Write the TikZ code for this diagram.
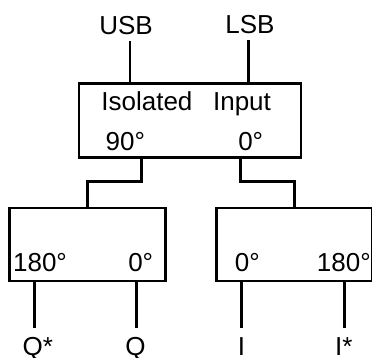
\documentclass[tikz,border=0pt]{standalone}
\usepackage{fontspec}
\setmainfont{Liberation Sans}
\usetikzlibrary{positioning,calc}

\begin{document}
\begin{tikzpicture}[x=1pt,y=1pt,line width=2.6pt,font=\fontsize{26}{31}\selectfont,
  block/.style={draw,inner sep=0pt,minimum height=73pt,minimum width=155.5pt},
  lab/.style={inner sep=0pt,anchor=base}]
  \useasboundingbox (0,0) rectangle (372,358);
  % hybrid coupler and the two splitters
  \node[block,minimum width=222pt,minimum height=74pt] (hyb) at (190,237.7) {};
  \node[block] (splitq) at (87.5,113.5) {};
  \node[block] (spliti) at (294.3,113.5) {};
  % port names inside the boxes
  \foreach \nm/\x/\y/\txt in {hybiso/146.9/247/Isolated, hybin/242/247/Input, hybq/125.3/207.3/90°, hybi/250.7/207.3/0°,
    qm/40/86.3/180°, qp/140.7/86.3/0°, ip/247.3/86.3/0°, im/343.8/86.3/180°}
    \node[lab] (\nm) at (\x,\y) {\txt};
  % sideband inputs
  \node[lab] (usb) at (126,323.7) {USB};
  \node[lab] (lsb) at (250,324.7) {LSB};
  \coordinate (pusb) at (130,274.7);
  \coordinate (plsb) at (248.3,274.7);
  \draw[shorten >=4.7pt] (pusb) -- (pusb |- usb.south);
  \draw[shorten >=4.7pt] (plsb) -- (plsb |- lsb.south);
  % hybrid to splitters
  \coordinate (phybq) at (141.7,200.7);
  \coordinate (phybi) at (240.7,200.7);
  \draw (phybq) -- ++(0,-24.4) -| (splitq.north);
  \draw (phybi) -- ++(0,-24.4) -| (spliti.north);
  % outputs
  \foreach \nm/\x/\px/\txt in {qbar/37.7/34.3/{Q*}, q/135.5/136.7/Q, i/241.5/241.7/I, ibar/343.8/344.3/{I*}}{
    \coordinate (p\nm) at (\px,77);
    \node[lab] (\nm) at (\x,2.4) {\txt};
    \draw[shorten >=8.6pt] (p\nm) -- (p\nm |- \nm.north);
  }
\end{tikzpicture}
\end{document}
